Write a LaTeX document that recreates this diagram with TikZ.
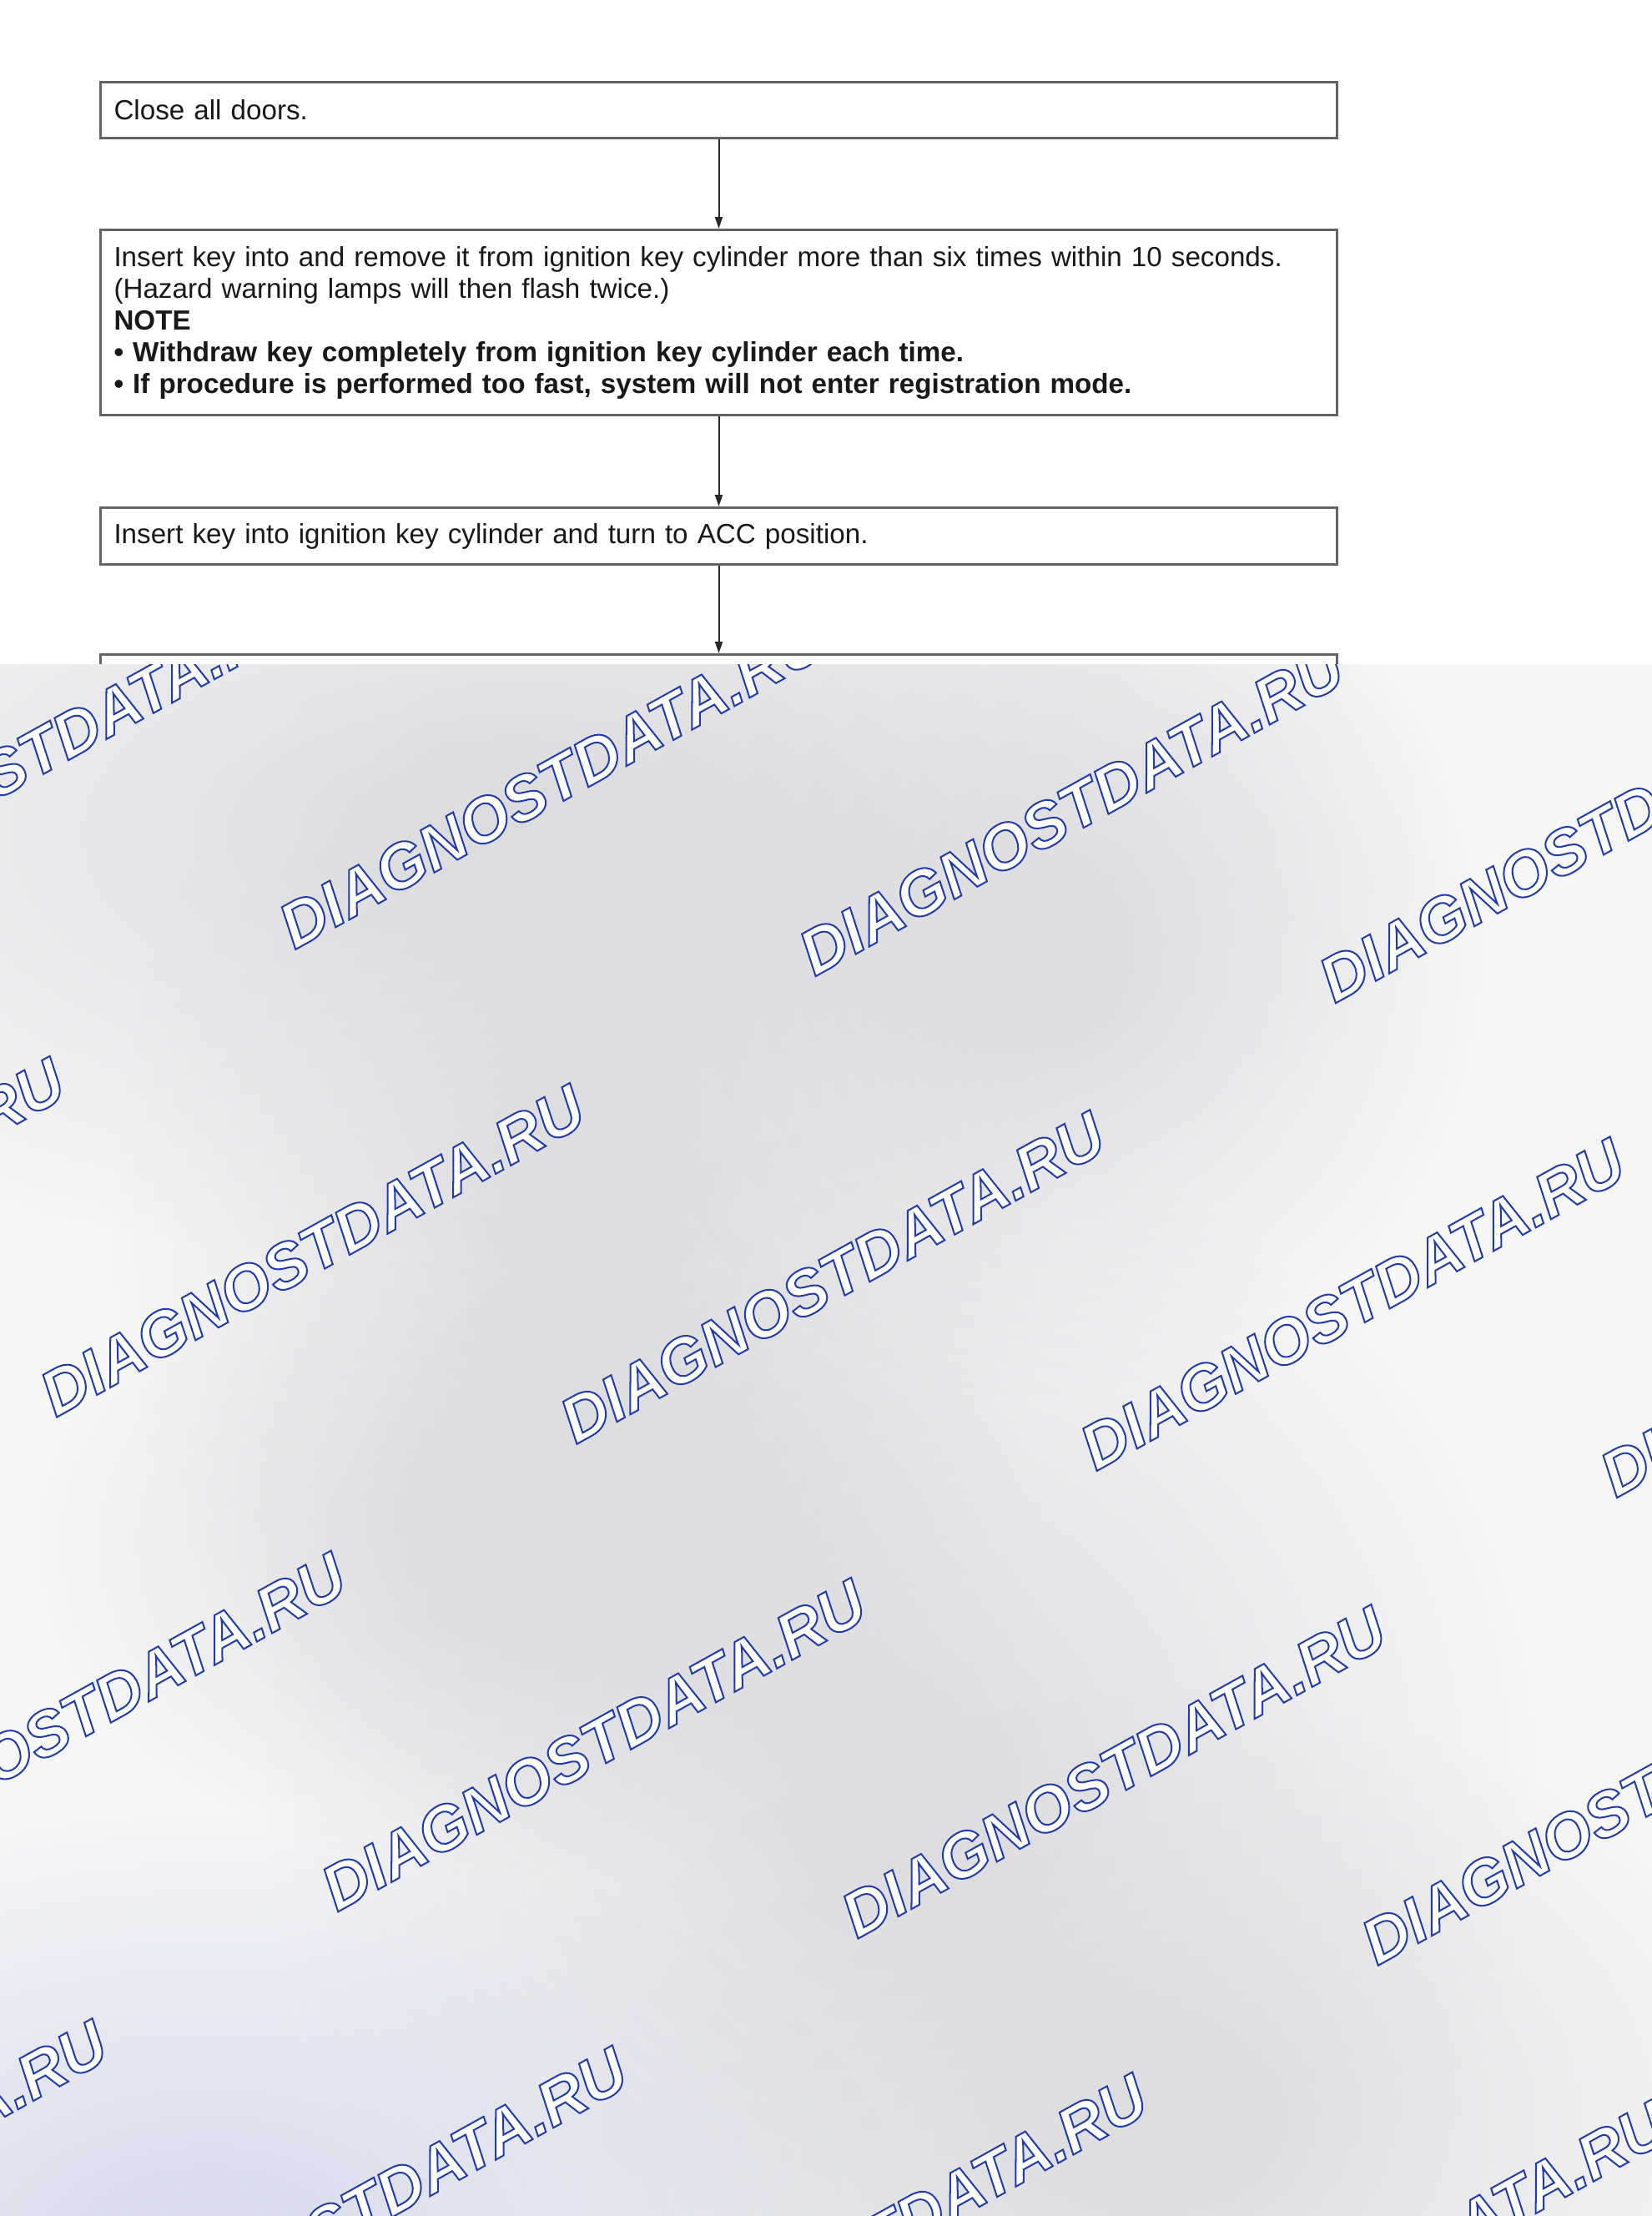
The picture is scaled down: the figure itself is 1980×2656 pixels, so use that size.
\documentclass[tikz,border=0pt]{standalone}
\usepackage{fontspec}
\setmainfont{Liberation Sans}
\usetikzlibrary{arrows.meta,fadings}
\definecolor{boxline}{RGB}{100,100,100}
\definecolor{arrowc}{RGB}{40,40,40}
\definecolor{txt}{RGB}{25,25,25}
\definecolor{ovbase}{RGB}{246,246,247}
\definecolor{blob}{RGB}{220,220,223}
\definecolor{blueblob}{RGB}{214,217,234}
\tikzfading[name=softblob, inner color=transparent!0, outer color=transparent!100]
\newcommand{\wmtext}{{\color{white}\special{pdf:literal direct 0.13 0.23 0.67 RG 1 w 2 Tr}DIAGNOSTDATA.RU\special{pdf:literal direct 0 Tr}}}
\begin{document}
\begin{tikzpicture}[x=0.5pt,y=-0.5pt,
  stepbox/.style={draw=boxline, line width=1.5pt, rectangle, anchor=north west,
    minimum width=741pt, text width=725pt, inner xsep=8pt, inner ysep=0pt,
    align=left, font=\fontsize{16.6pt}{19pt}\selectfont, text=txt},
  flow/.style={draw=arrowc, line width=1pt, -{Triangle[length=7pt,width=4.5pt]}},
  wm/.style={rotate=29, font=\fontsize{38pt}{40pt}\selectfont\bfseries\itshape, inner sep=0pt},
  softspot/.style={path fading=softblob}]
\useasboundingbox (0,0) rectangle (1980,2656);
\fill[white] (0,0) rectangle (1980,2656);

% flow chart
\node[stepbox, minimum height=33.5pt] (b1) at (119,97) {Close all doors.};
\node[stepbox, minimum height=111pt] (b2) at (119,274) {Insert key into and remove it from ignition key cylinder more than six times within 10 seconds.\\
(Hazard warning lamps will then flash twice.)\\
\textbf{NOTE}\\
\textbf{• Withdraw key completely from ignition key cylinder each time.}\\
\textbf{• If procedure is performed too fast, system will not enter registration mode.}};
\node[stepbox, minimum height=34pt] (b3) at (119,607) {Insert key into ignition key cylinder and turn to ACC position.};
\node[stepbox, minimum height=100pt] (b4) at (119,783) {};
\draw[flow] (b1.south) -- (b2.north);
\draw[flow] (b2.south) -- (b3.north);
\draw[flow] (b3.south) -- (b4.north);

% watermark overlay
\fill[ovbase] (0,796) rectangle (1980,2656);
\begin{scope}
\clip (0,796) rectangle (1980,2656);
\fill[blob, softspot] (620,1000) ellipse [x radius=560pt, y radius=260pt];
\fill[blob, softspot] (700,1450) ellipse [x radius=280pt, y radius=380pt];
\fill[blob, softspot] (650,1850) ellipse [x radius=300pt, y radius=200pt];
\fill[blob, softspot] (1080,2150) ellipse [x radius=380pt, y radius=400pt];
\fill[blob, softspot] (1250,1150) ellipse [x radius=260pt, y radius=260pt];
\fill[blob, softspot] (1400,2550) ellipse [x radius=360pt, y radius=260pt];
\fill[blueblob, softspot] (250,2700) ellipse [x radius=420pt, y radius=260pt];
\foreach \i in {-2,...,4} {
  \foreach \j in {0,...,3} {
    \pgfmathsetmacro\px{660.5+\i*623.3-\j*286.2}
    \pgfmathsetmacro\py{938.3+\i*32.2+\j*560.6}
    \node[wm] (w\i\j) at (\px,\py) {\wmtext};
  }
}
\end{scope}
\end{tikzpicture}
\end{document}
